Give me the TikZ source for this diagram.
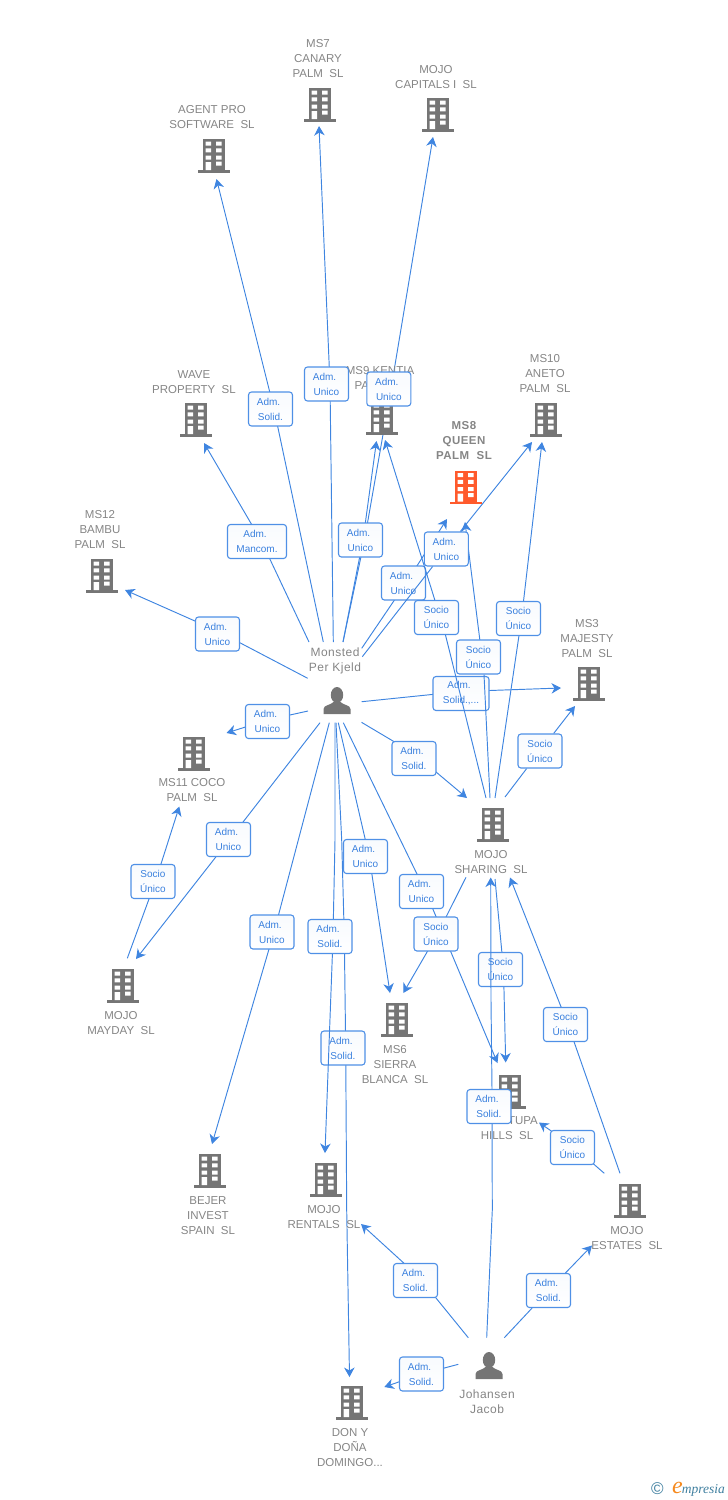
\documentclass[tikz,border=0pt]{standalone}
\usepackage{fontspec}
\setmainfont{Liberation Sans}
\newfontfamily\logofont{Liberation Serif}
\usetikzlibrary{arrows.meta,calc}
\pgfdeclarelayer{bg}
\pgfsetlayers{bg,main}
\definecolor{icongray}{HTML}{757575}
\definecolor{iconred}{HTML}{FF5A2C}
\definecolor{textgray}{HTML}{858585}
\definecolor{linkblue}{HTML}{3F85E0}
\definecolor{boxblue}{HTML}{4F90E6}
\definecolor{lbltext}{HTML}{3A80DE}
\definecolor{logoteal}{HTML}{3F7F9F}
\definecolor{logoorange}{HTML}{F58A1F}
\newcommand{\bldicon}[1]{%
  \fill[#1] (-11,-16) rectangle (11,15);
  \fill[#1] (-16,15) rectangle (16,17.5);
  \fill[white] (-8.3,-13.3) rectangle (-3,-9.3) (2,-13.3) rectangle (7.5,-9.3)
    (-8.3,-6.7) rectangle (-3,-2.7) (2,-6.7) rectangle (7.5,-2.7)
    (-8.3,0.5) rectangle (-3,4.5) (2,0.5) rectangle (7.5,4.5)
    (-8.3,7) rectangle (-3,15) (2,6.5) rectangle (7.5,10.5);}
\newcommand{\admU}{Adm.\kern4pt\\Unico}
\newcommand{\admS}{Adm.\kern4pt\\Solid.}
\newcommand{\socU}{Socio\\Único}
\tikzset{
  x=1pt,y=-1pt,
  bld/.style={minimum width=33pt,minimum height=36pt,inner sep=0pt,outer sep=0pt,
    path picture={\bldicon{#1}}},
  personicon/.style={minimum width=30pt,minimum height=32pt,inner sep=0pt,outer sep=0pt,
    path picture={\fill[icongray] (0,-6) ellipse [x radius=6.2,y radius=8];
      \fill[icongray] (-13.5,13) -- (-13.5,8) .. controls (-13.5,4) and (-6,4) .. (-3.5,1)
        -- (3.5,1) .. controls (6,4) and (13.5,4) .. (13.5,8) -- (13.5,13) -- cycle;}},
  caption/.style={align=center,text=textgray,inner sep=0pt,yshift=-0.8pt,
    font=\fontsize{11.5}{15}\selectfont},
  personcaption/.style={caption,font=\fontsize{12}{15}\selectfont\addfontfeatures{LetterSpace=4}},
  lbl/.style={draw=boxblue,line width=1.1pt,rounded corners=3pt,top color=white!96!boxblue,bottom color=white,
    minimum width=44pt,minimum height=34pt,inner sep=0pt,align=center,text=lbltext,
    font=\fontsize{10}{15}\selectfont},
  link/.style={draw=linkblue,line width=0.95pt,-{Stealth[length=9.5pt,width=10.5pt,inset=3pt]}},
  plainlink/.style={draw=linkblue,line width=0.95pt},
}
\begin{document}
\begin{tikzpicture}
\useasboundingbox (0,0) rectangle (728,1500);
% building icons
\node[bld=icongray] (agent) at (214,155) {};
\node[bld=icongray] (ms7) at (320,104) {};
\node[bld=icongray] (capitals) at (438,114) {};
\node[bld=icongray] (wave) at (196,419) {};
\node[bld=icongray] (ms9) at (382,417) {};
\node[bld=iconred] (ms8) at (466,486.5) {};
\node[bld=icongray] (ms10) at (546,419) {};
\node[bld=icongray] (ms12) at (102,575) {};
\node[bld=icongray] (ms3) at (589,683) {};
\node[bld=icongray] (ms11) at (194,753) {};
\node[bld=icongray] (sharing) at (493,824) {};
\node[bld=icongray] (mayday) at (123,985) {};
\node[bld=icongray] (ms6) at (397,1019) {};
\node[bld=icongray] (tupa) at (510,1091) {};
\node[bld=icongray] (estates) at (630,1200) {};
\node[bld=icongray] (bejer) at (210,1170) {};
\node[bld=icongray] (rentals) at (326,1179) {};
\node[bld=icongray] (don) at (352,1402) {};
\node[personicon] (monsted) at (337,701) {};
\node[personicon] (johansen) at (489,1366) {};
% captions
\node[caption] (agentT) at (212,116.5) {AGENT PRO\\SOFTWARE\ \ SL};
\node[caption] (ms7T) at (318,58) {MS7\\CANARY\\PALM\ \ SL};
\node[caption] (capitalsT) at (436,76.5) {MOJO\\CAPITALS I\ \ SL};
\node[caption] (waveT) at (194,381.5) {WAVE\\PROPERTY\ \ SL};
\node[caption] (ms9T) at (380,377.5) {MS9 KENTIA\\PALM\ \ SL};
\node[caption,font=\bfseries\fontsize{11.5}{15}\selectfont\addfontfeatures{LetterSpace=4}] (ms8T) at (464,440) {MS8\\QUEEN\\PALM\ \ SL};
\node[caption] (ms10T) at (545,373) {MS10\\ANETO\\PALM\ \ SL};
\node[caption] (ms12T) at (100,529) {MS12\\BAMBU\\PALM\ \ SL};
\node[caption] (ms3T) at (587,638) {MS3\\MAJESTY\\PALM\ \ SL};
\node[caption] (ms11T) at (192,789.5) {MS11 COCO\\PALM\ \ SL};
\node[caption] (sharingT) at (491,861.5) {MOJO\\SHARING\ \ SL};
\node[caption] (maydayT) at (121,1022.5) {MOJO\\MAYDAY\ \ SL};
\node[caption] (ms6T) at (395,1064) {MS6\\SIERRA\\BLANCA\ \ SL};
\node[caption] (tupaT) at (507,1127.5) {\hspace*{32pt}TUPA\\HILLS\ \ SL};
\node[caption] (estatesT) at (627,1237.5) {MOJO\\ESTATES\ \ SL};
\node[caption] (bejerT) at (208,1215) {BEJER\\INVEST\\SPAIN\ \ SL};
\node[caption] (rentalsT) at (324,1216.5) {MOJO\\RENTALS\ \ SL};
\node[caption] (donT) at (350,1447) {DON Y\\DOÑA\\DOMINGO...};
\node[personcaption] (monstedT) at (335,660) {Monsted\\Per Kjeld};
\node[personcaption] (johansenT) at (487,1401) {Johansen\\Jacob};
% relation labels
\node[lbl] (l1) at (270.5,409) {\admS};
\node[lbl] (l2) at (326.5,384) {\admU};
\node[lbl] (l3) at (388.8,389) {\admU};
\node[lbl] (l4) at (360.5,540) {\admU};
\node[lbl] (l5) at (403.5,583) {\admU};
\node[lbl] (l6) at (446.3,549) {\admU};
\node[lbl,minimum width=56pt] (l7) at (461,693.5) {Adm.\kern4pt\\Solid.,...};
\node[lbl,minimum width=59pt] (l8) at (257,541.5) {Adm.\kern4pt\\Mancom.};
\node[lbl] (l9) at (217.5,634) {\admU};
\node[lbl] (l10) at (267.5,721.5) {\admU};
\node[lbl] (l11) at (228.5,839.5) {\admU};
\node[lbl] (l12) at (272,932) {\admU};
\node[lbl] (l13) at (330,936.5) {\admS};
\node[lbl] (l14) at (343,1048) {\admS};
\node[lbl] (l15) at (365.5,856.5) {\admU};
\node[lbl] (l16) at (421.5,891.5) {\admU};
\node[lbl] (l17) at (414,758.5) {\admS};
\node[lbl] (s1) at (436.5,617.5) {\socU};
\node[lbl] (s2) at (478.5,657) {\socU};
\node[lbl] (s3) at (518.5,618.5) {\socU};
\node[lbl] (s4) at (540,751) {\socU};
\node[lbl] (s5) at (436,934) {\socU};
\node[lbl] (s6) at (500.5,969.5) {\socU};
\node[lbl] (s7) at (565.5,1024.5) {\socU};
\node[lbl] (s8) at (572.5,1147.5) {\socU};
\node[lbl] (s9) at (153,881.5) {\socU};
\node[lbl] (j1) at (489,1106.5) {\admS};
\node[lbl] (j2) at (415.5,1280.5) {\admS};
\node[lbl] (j3) at (548.5,1290.5) {\admS};
\node[lbl] (j4) at (421.5,1374) {\admS};
% free ends of connectors
\coordinate (a1) at (323.3,642);   \coordinate (b1) at (216.5,179);
\coordinate (a2) at (333.3,642);   \coordinate (b2) at (319,126);
\coordinate (a3) at (343,642);     \coordinate (b3) at (433,137);
\coordinate (a4) at (343,642);     \coordinate (b4) at (376.5,441);
\coordinate (a5) at (361.7,648.3); \coordinate (b5) at (447,519);
\coordinate (a6) at (362.3,656.7); \coordinate (b6) at (532,442);
\coordinate (a7) at (361.7,701.7); \coordinate (b7) at (561,688);
\coordinate (a8) at (309,642);     \coordinate (b8) at (204,443);
\coordinate (a9) at (307.7,678.3); \coordinate (b9) at (125,590);
\coordinate (a10) at (308,711);    \coordinate (b10) at (226.5,733);
\coordinate (a11) at (320,722.7);  \coordinate (b11) at (136,959);
\coordinate (a12) at (329.3,722.7);\coordinate (b12) at (212,1144);
\coordinate (a13) at (335,722.7);  \coordinate (b13) at (325,1153);
\coordinate (a14) at (336,722.7);  \coordinate (b14) at (349.5,1377);
\coordinate (a15) at (338.3,722.7);\coordinate (b15) at (390,993);
\coordinate (a16) at (343.3,722.7);\coordinate (b16) at (497.5,1063);
\coordinate (a17) at (361.5,722.3);\coordinate (b17) at (467,798);
\coordinate (c1) at (486,798);     \coordinate (d1) at (385,440);
\coordinate (c2) at (490,798);     \coordinate (d2) at (465,522);
\coordinate (c3) at (495,798);     \coordinate (d3) at (542,442);
\coordinate (c4) at (505,797);     \coordinate (d4) at (575,706);
\coordinate (c5) at (466,877.3);   \coordinate (d5) at (403.3,993);
\coordinate (c6) at (495,879);     \coordinate (d6) at (505.7,1062.5);
\coordinate (c7) at (620,1173.3);  \coordinate (d7) at (510,877.5);
\coordinate (c8) at (604.3,1173.3);\coordinate (d8) at (539,1122.5);
\coordinate (c9) at (127.3,958.3); \coordinate (d9) at (179.3,806.5);
\coordinate (e1) at (486.7,1337.7);\coordinate (f1) at (490.7,877.5);
\coordinate (e2) at (468.3,1337.7);\coordinate (f2) at (361,1224);
\coordinate (e3) at (504.3,1337.7);\coordinate (f3) at (592,1245.5);
\coordinate (e4) at (458.3,1364.3);\coordinate (f4) at (384.3,1387);
% bend points, hidden under the labels or on the long runs
\coordinate (v1) at ($(l1)+(3.5,0)$);
\coordinate (v2) at ($(l2)+(3.5,0)$);
\coordinate (v3a) at ($(l4)+(4,0)$);
\coordinate (v3b) at ($(l3)+(2.2,0)$);
\coordinate (v4) at ($(l4)+(2.5,0)$);
\coordinate (v5) at ($(l5)+(2.5,0)$);
\coordinate (v7) at ($(l7)+(0,-2)$);
\coordinate (v8) at ($(l8)+(4.6,0)$);
\coordinate (v9) at ($(l9)+(0,-3)$);
\coordinate (v10) at ($(l10)+(0,-1.5)$);
\coordinate (v11) at ($(l11)+(1,0)$);
\coordinate (v12) at ($(l12)+(2,0)$);
\coordinate (v13a) at (335,840);
\coordinate (v13b) at ($(l13)+(3,0)$);
\coordinate (v13c) at ($(l13.south)+(2.4,0)$);
\coordinate (v14a) at (341.7,840);
\coordinate (v14b) at ($(l13)+(14.3,0)$);
\coordinate (v14c) at ($(l14)+(2.7,0)$);
\coordinate (v14d) at (346.7,1210);
\coordinate (v15) at ($(l15)+(3.7,0)$);
\coordinate (v16) at ($(l16)+(4,0)$);
\coordinate (v17) at ($(l17)+(0,-5)$);
\coordinate (w1a) at ($(s1.north)+(-1.7,0)$);
\coordinate (w1b) at ($(s1.south)+(9,0)$);
\coordinate (w2a) at ($(s2.south)+(5.5,0)$);
\coordinate (w2) at ($(s2)+(3.5,0)$);
\coordinate (w3) at ($(s3)+(3,0)$);
\coordinate (w5) at ($(s5)+(1.5,0)$);
\coordinate (w6) at ($(s6)+(3,0)$);
\coordinate (w7) at ($(s7)+(2.5,0)$);
\coordinate (w8) at ($(s8)+(0,-1.8)$);
\coordinate (w9) at ($(s9)+(2.4,0)$);
\coordinate (x1a) at (492.3,1210);
\coordinate (x1b) at ($(j1)+(3,0)$);
\coordinate (x1c) at ($(j1.north)+(3,0)$);
\coordinate (x1d) at (491,1000);
\coordinate (x2) at ($(j2)+(3,-4)$);
% connectors under the labels
\begin{pgfonlayer}{bg}
\draw[link] (a1) -- (v1) -- (b1);
\draw[link] (a2) -- (v2) -- (b2);
\draw[link] (a3) -- (v3a) -- (v3b) -- (b3);
\draw[link] (a4) -- (v4) -- (b4);
\draw[link] (a5) -- (v5) -- (b5);
\draw[link] (l6) -- (b6);
\draw[link] (a7) -- (v7) -- (b7);
\draw[link] (a8) -- (v8) -- (b8);
\draw[link] (a9) -- (v9) -- (b9);
\draw[link] (a10) -- (v10) -- (b10);
\draw[link] (a11) -- (v11) -- (b11);
\draw[link] (a12) -- (v12) -- (b12);
\draw[plainlink] (a13) -- (v13a) -- (v13b);
\draw[link] (a14) -- (v14a) -- (v14b) -- (v14c) -- (v14d) -- (b14);
\draw[link] (a15) -- (v15) -- (b15);
\draw[link] (a16) -- (v16) -- (b16);
\draw[link] (a17) -- (v17) -- (b17);
\draw[link] (w2) -- (d2);
\draw[link] (c3) -- (w3) -- (d3);
\draw[link] (c4) -- (s4) -- (d4);
\draw[link] (c5) -- (w5) -- (d5);
\draw[link] (c6) -- (w6) -- (d6);
\draw[link] (c7) -- (w7) -- (d7);
\draw[link] (c8) -- (w8) -- (d8);
\draw[link] (c9) -- (w9) -- (d9);
\draw[plainlink] (e1) -- (x1a) -- (x1b);
\draw[link] (e2) -- (x2) -- (f2);
\draw[link] (e3) -- (j3) -- (f3);
\draw[link] (e4) -- (j4) -- (f4);
\end{pgfonlayer}
% connectors that run over other labels
\draw[plainlink] (a6) -- (l6);
\draw[plainlink] (c1) -- (w1b);
\draw[link] (w1a) -- (d1);
\draw[plainlink] (c2) -- (w2a);
\draw[link] (v13c) -- (b13);
\draw[link] (x1c) -- (x1d) -- (f1);
% logo
\node[inner sep=0pt,text=logoteal,font=\fontsize{17}{17}\selectfont] (logoC) at (657.5,1489) {©};
\node[inner sep=0pt,anchor=base west,font=\logofont\itshape\fontsize{13.5}{13.5}\selectfont,text=logoteal] (logoT) at (672,1493)
  {\textcolor{logoorange}{\fontsize{24}{24}\selectfont e}\kern-1pt mpresia};
\end{tikzpicture}
\end{document}
